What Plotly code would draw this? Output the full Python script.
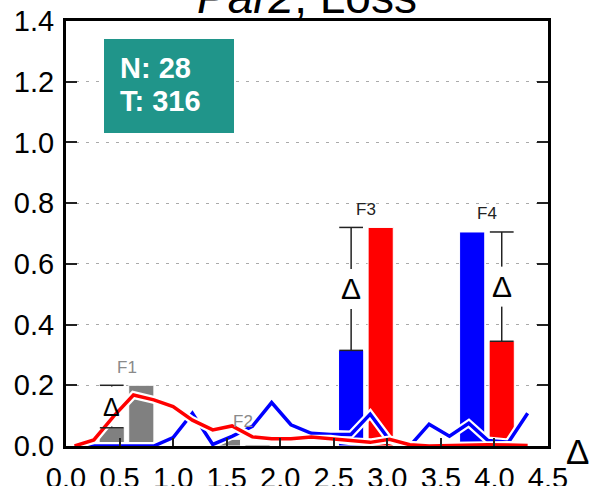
import plotly.graph_objects as go

# ---------------- data ----------------
title_text = "<i>Par2</i>, Loss"
features = ["F1", "F2", "F3", "F4"]
feature_centers = [0.565, 1.65, 2.80, 3.93]
left_values = [0.06, 0.022, 0.315, 0.705]     # blue (or grey) bars
right_values = [0.20, 0.005, 0.72, 0.345]     # red (or grey) bars
significant = [False, False, True, True]

line_x = [0.08, 0.26, 0.45, 0.63, 0.82, 1.00, 1.18, 1.37, 1.55, 1.74, 1.92, 2.10,
          2.29, 2.47, 2.66, 2.84, 3.02, 3.21, 3.39, 3.58, 3.76, 3.94, 4.13, 4.31]
blue_line = [0.0, 0.0, 0.0, 0.0, 0.0, 0.028, 0.108, 0.005, 0.032, 0.065, 0.143, 0.070,
             0.042, 0.038, 0.038, 0.105, 0.020, 0.0, 0.072, 0.032, 0.075, 0.018, 0.012, 0.108]
red_line = [0.0, 0.02, 0.10, 0.168, 0.152, 0.13, 0.085, 0.053, 0.066, 0.030, 0.024, 0.024,
            0.030, 0.024, 0.016, 0.012, 0.022, 0.004, 0.0, 0.002, 0.004, 0.004, 0.003, 0.002]

x_ticks = [0.0, 0.5, 1.0, 1.5, 2.0, 2.5, 3.0, 3.5, 4.0, 4.5]
y_ticks = [0.0, 0.2, 0.4, 0.6, 0.8, 1.0, 1.2, 1.4]
info_lines = ["N: 28", "T: 316"]
delta = "Δ"

# ---------------- styling ----------------
BLUE = "#0000ff"
RED = "#ff0000"
GREY = "#808080"
TEAL = "#20958a"
FONT = "Liberation Sans, Arial, Helvetica, sans-serif"
BAR_OFF = 0.138
BAR_W = 0.235

fig = go.Figure()

left_x = [c - BAR_OFF for c in feature_centers]
right_x = [c + BAR_OFF for c in feature_centers]
left_cols = [BLUE if s else GREY for s in significant]
right_cols = [RED if s else GREY for s in significant]

fig.add_trace(go.Bar(x=left_x, y=left_values, width=BAR_W,
                     marker=dict(color=left_cols, line=dict(color="white", width=1)),
                     showlegend=False, hoverinfo="skip"))
fig.add_trace(go.Bar(x=right_x, y=right_values, width=BAR_W,
                     marker=dict(color=right_cols, line=dict(color="white", width=1)),
                     showlegend=False, hoverinfo="skip"))

# lines with white halo
for ys, col in [(blue_line, BLUE), (red_line, RED)]:
    fig.add_trace(go.Scatter(x=line_x, y=ys, mode="lines",
                             line=dict(color="white", width=8),
                             showlegend=False, hoverinfo="skip"))
    fig.add_trace(go.Scatter(x=line_x, y=ys, mode="lines",
                             line=dict(color=col, width=3.5),
                             showlegend=False, hoverinfo="skip"))

# error bars (difference between the two bars) with a Δ in the middle
PX_PER_UNIT = 425 / 1.4
annotations = []
for i, f in enumerate(features):
    lo_v, hi_v = sorted([left_values[i], right_values[i]])
    diff = hi_v - lo_v
    top = max(left_values[i], right_values[i])
    lab_col = "#222222" if significant[i] else "#8a8a8a"
    annotations.append(dict(x=feature_centers[i], y=top + 0.06, xref="x", yref="y",
                            text=f, showarrow=False, font=dict(size=17, color=lab_col, family=FONT)))
    if diff < 0.05:
        continue
    ex = left_x[i] if left_values[i] <= right_values[i] else right_x[i]
    mid = (lo_v + hi_v) / 2
    gap = 20 / PX_PER_UNIT
    seg_x = [ex, ex, None, ex, ex]
    seg_y = [lo_v, max(lo_v, mid - gap), None, min(hi_v, mid + gap), hi_v]
    fig.add_trace(go.Scatter(x=seg_x, y=seg_y, mode="lines",
                             line=dict(color="#222222", width=1.5),
                             showlegend=False, hoverinfo="skip"))
    fig.add_trace(go.Scatter(x=[ex, ex], y=[lo_v, hi_v], mode="markers",
                             marker=dict(symbol="line-ew", size=17,
                                         line=dict(color="#222222", width=1.5)),
                             showlegend=False, hoverinfo="skip"))
    annotations.append(dict(x=ex, y=mid, xref="x", yref="y", text=delta, showarrow=False,
                            font=dict(size=30 if diff > 0.2 else 25, color="black", family=FONT)))

# info box
plot_l, plot_r, plot_t, plot_b = 66, 548, 21, 446
W, H = 594, 486
pw, ph = plot_r - plot_l, plot_b - plot_t
def px2x(px):
    return (px - plot_l) / pw
def px2y(py):
    return (plot_b - py) / ph

shapes = [dict(type="rect", xref="paper", yref="paper",
               x0=px2x(104), x1=px2x(234), y0=px2y(133), y1=px2y(39),
               fillcolor=TEAL, line=dict(width=0), layer="above")]
for k, line_txt in enumerate(info_lines):
    annotations.append(dict(x=px2x(118), y=px2y(68 + 33 * k), xref="paper", yref="paper",
                            xanchor="left", yanchor="middle", align="left",
                            text="<b>" + line_txt + "</b>", showarrow=False,
                            font=dict(size=29, color="white", family=FONT)))

# title (cut off at the top as in the reference)
annotations.append(dict(x=0.5, y=1, xref="paper", yref="paper", xanchor="center",
                        yanchor="bottom", yshift=-4, text=title_text, showarrow=False,
                        font=dict(size=46, color="black", family=FONT)))
# x-axis title
annotations.append(dict(x=1, y=0, xref="paper", yref="paper", xanchor="left",
                        yanchor="middle", xshift=16, yshift=-5, text=delta, showarrow=False,
                        font=dict(size=35, color="black", family=FONT)))

fig.update_layout(
    width=W, height=H,
    margin=dict(l=plot_l, r=W - plot_r, t=plot_t, b=H - plot_b, pad=0, autoexpand=False),
    paper_bgcolor="white", plot_bgcolor="white",
    barmode="overlay",
    showlegend=False,
    font=dict(family=FONT, color="black"),
    shapes=shapes,
    annotations=annotations,
)
fig.update_xaxes(range=[0, 4.5], tickvals=x_ticks, ticktext=[f"{v:.1f}" for v in x_ticks],
                 showgrid=False, zeroline=False, automargin=False,
                 showline=True, linecolor="black", linewidth=3, mirror=True,
                 ticks="inside", ticklen=8, tickwidth=1.5, tickcolor="#222222",
                 ticklabelstandoff=4,
                 tickfont=dict(size=29, color="black", family=FONT))
fig.update_yaxes(range=[0, 1.4], tickvals=y_ticks, ticktext=[f"{v:.1f}" for v in y_ticks],
                 showgrid=True, gridcolor="#aaaaaa", gridwidth=1, griddash="3px,7px",
                 zeroline=False, automargin=False,
                 showline=True, linecolor="black", linewidth=3, mirror="ticks",
                 ticks="inside", ticklen=11, tickwidth=1.5, tickcolor="#222222",
                 ticklabelstandoff=3,
                 tickfont=dict(size=29, color="black", family=FONT))

fig.write_html("out.html", config={"displayModeBar": False},
               post_script="document.body.style.margin='0';document.body.style.overflow='hidden';")
